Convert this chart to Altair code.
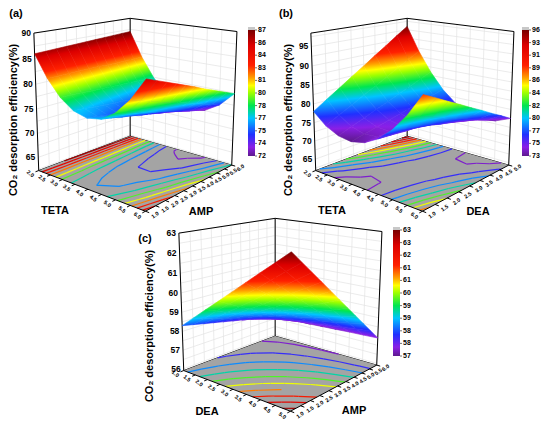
import numpy as np
import altair as alt

# ---------------- data ----------------
TETA = [2.0, 2.5, 3.0, 3.5, 4.0, 4.5, 5.0, 5.5, 6.0]
AMP = [1.0, 1.5, 2.0, 2.5, 3.0, 3.5, 4.0, 4.5, 5.0, 5.5, 6.0]
DEA = [1.0, 1.5, 2.0, 2.5, 3.0, 3.5, 4.0, 4.5, 5.0]

# (a) rows = TETA, columns = AMP
EFF_A = [
    [86.0, 86.1, 86.2, 86.3, 86.4, 86.5, 86.6, 86.7, 86.8, 86.9, 87.0],
    [81.7, 81.7, 81.7, 81.7, 81.7, 81.7, 81.6, 81.6, 81.6, 81.6, 81.6],
    [78.6, 78.5, 78.4, 78.2, 78.1, 78.0, 77.9, 77.8, 77.6, 77.5, 77.4],
    [76.7, 76.5, 76.2, 76.0, 75.8, 75.6, 75.3, 75.1, 74.9, 74.6, 74.4],
    [76.0, 75.7, 75.3, 75.0, 74.6, 74.3, 74.0, 73.6, 73.3, 72.9, 72.6],
    [76.5, 76.1, 75.6, 75.2, 74.7, 74.3, 73.8, 73.4, 72.9, 72.5, 72.0],
    [78.3, 77.7, 77.2, 76.6, 76.0, 75.5, 74.9, 74.3, 73.7, 73.2, 72.6],
    [81.3, 80.6, 79.9, 79.2, 78.5, 77.9, 77.2, 76.5, 75.8, 75.1, 74.4],
    [85.5, 84.7, 83.9, 83.1, 82.3, 81.5, 80.6, 79.8, 79.0, 78.2, 77.4],
]
# (b) rows = TETA, columns = DEA
EFF_B = [
    [78.0, 80.3, 82.5, 84.8, 87.0, 89.3, 91.5, 93.8, 96.0],
    [75.1, 76.9, 78.6, 80.4, 82.1, 83.9, 85.6, 87.4, 89.1],
    [73.5, 74.8, 76.0, 77.3, 78.5, 79.8, 81.0, 82.3, 83.5],
    [73.0, 73.8, 74.5, 75.3, 76.0, 76.8, 77.5, 78.3, 79.0],
    [73.8, 74.1, 74.3, 74.6, 74.8, 75.1, 75.3, 75.6, 75.8],
    [75.8, 75.6, 75.3, 75.1, 74.8, 74.6, 74.3, 74.1, 73.8],
    [79.0, 78.3, 77.5, 76.8, 76.0, 75.3, 74.5, 73.8, 73.0],
    [83.4, 82.2, 80.9, 79.7, 78.4, 77.2, 75.9, 74.7, 73.4],
    [89.0, 87.3, 85.5, 83.8, 82.0, 80.3, 78.5, 76.8, 75.0],
]
# (c) rows = DEA, columns = AMP
EFF_C = [
    [58.30, 58.18, 58.06, 57.94, 57.82, 57.70, 57.58, 57.46, 57.34, 57.22, 57.10],
    [58.89, 58.71, 58.54, 58.36, 58.19, 58.01, 57.84, 57.66, 57.49, 57.31, 57.14],
    [59.48, 59.25, 59.02, 58.79, 58.56, 58.33, 58.10, 57.87, 57.64, 57.41, 57.18],
    [60.06, 59.78, 59.49, 59.21, 58.92, 58.64, 58.35, 58.07, 57.78, 57.50, 57.21],
    [60.65, 60.31, 59.97, 59.63, 59.29, 58.95, 58.61, 58.27, 57.93, 57.59, 57.25],
    [61.24, 60.84, 60.45, 60.05, 59.66, 59.26, 58.87, 58.47, 58.08, 57.68, 57.29],
    [61.83, 61.38, 60.93, 60.48, 60.03, 59.58, 59.13, 58.68, 58.23, 57.78, 57.33],
    [62.41, 61.91, 61.40, 60.90, 60.39, 59.89, 59.38, 58.88, 58.37, 57.87, 57.36],
    [63.00, 62.44, 61.88, 61.32, 60.76, 60.20, 59.64, 59.08, 58.52, 57.96, 57.40],
]

ZT_A = [65, 70, 75, 80, 85, 90]
ZT_B = [65, 70, 75, 80, 85, 90, 95]
ZT_C = [56, 57, 58, 59, 60, 61, 62, 63]

CB_A = ["87", "86", "84", "83", "81", "80", "78", "77", "75", "74", "72"]
CB_B = ["96", "93", "91", "89", "86", "84", "82", "80", "77", "75", "73"]
CB_C = ["63", "63", "62", "61", "61", "60", "59", "59", "58", "58", "57"]

Z_TITLE = "CO₂ desorption efficiency(%)"

# ---------------- style / layout ----------------
FONT = "Liberation Sans"
CMAP_T = [0.0, 0.07, 0.17, 0.30, 0.40, 0.50, 0.56, 0.62, 0.72, 0.88, 1.0]
CMAP_C = ["#5e1a8e", "#8a1fe6", "#2030ff", "#00c4ff", "#00e650", "#9cff00",
          "#ffff00", "#ffa000", "#ff2000", "#dc0000", "#780000"]
FLOOR = "#a4a4a4"
GRID = "#e2e2e2"
LAB_OFF = 0.075

PANELS = [
    dict(f1=TETA, f2=AMP, z=EFF_A, zr=(62.2, 90.0), cr=(72.0, 87.0), zt=ZT_A, cb=CB_A,
         off=(0, 0), letter="(a)", lpos=(16, 14), ztpos=(14, 120),
         n1="TETA", n1pos=(55, 211), n2="AMP", n2pos=(201, 212), cbox=(248, 255, 30, 156)),
    dict(f1=TETA, f2=DEA, z=EFF_B, zr=(61.8, 98.4), cr=(73.0, 96.0), zt=ZT_B, cb=CB_B,
         off=(277, 0), letter="(b)", lpos=(286, 14), ztpos=(289, 120),
         n1="TETA", n1pos=(332, 211), n2="DEA", n2pos=(478, 212), cbox=(522, 529, 30, 156)),
    dict(f1=DEA, f2=AMP, z=EFF_C, zr=(55.9, 63.0), cr=(57.0, 63.0), zt=ZT_C, cb=CB_C,
         off=(145, 200), letter="(c)", lpos=(145, 239), ztpos=(150, 326),
         n1="DEA", n1pos=(207, 412), n2="AMP", n2pos=(354, 411), cbox=(393, 400, 230, 356)),
]

# box corners of panel (a) on the page: (u, v, w) -> (x, y)
CAM_PTS = [((0, 0, 0), (39, 170)), ((1, 0, 0), (145, 212)), ((1, 1, 0), (232, 164)),
           ((0, 1, 0), (130, 137)), ((0, 0, 1), (34, 33)), ((0, 1, 1), (130, 18)),
           ((1, 1, 1), (237, 32))]


def fit_camera(pts):
    xy = np.array([p[1] for p in pts], float)
    m = xy.mean(axis=0)
    s = np.sqrt(2) / np.mean(np.linalg.norm(xy - m, axis=1))
    T = np.array([[s, 0, -s * m[0]], [0, s, -s * m[1]], [0, 0, 1]])
    rows = []
    for (X, Y, Z), (x, y) in pts:
        xn, yn, _ = T @ np.array([x, y, 1.0])
        rows.append([X, Y, Z, 1, 0, 0, 0, 0, -xn * X, -xn * Y, -xn * Z, -xn])
        rows.append([0, 0, 0, 0, X, Y, Z, 1, -yn * X, -yn * Y, -yn * Z, -yn])
    _, _, vt = np.linalg.svd(np.asarray(rows, float))
    Pn = vt[-1].reshape(3, 4)
    P = np.linalg.inv(T) @ Pn
    return P / P[2, 3]


P = fit_camera(CAM_PTS)


def proj(u, v, w):
    h = P @ np.array([u, v, w, 1.0])
    return h[0] / h[2], h[1] / h[2], h[2]


def pexpr(row, u, v, w):
    a, d = P[row], P[2]
    num = f"({a[0]:.10g})*datum.{u}+({a[1]:.10g})*datum.{v}+({a[2]:.10g})*datum.{w}+({a[3]:.10g})"
    den = f"({d[0]:.10g})*datum.{u}+({d[1]:.10g})*datum.{v}+({d[2]:.10g})*datum.{w}+({d[3]:.10g})"
    return f"({num})/({den})"


def calc_point(ch, u="u", v="v", w="w", px="px", py="py"):
    return ch.transform_calculate(**{px: pexpr(0, u, v, w) + "+datum.ox",
                                     py: pexpr(1, u, v, w) + "+datum.oy"})


def hex2rgb(h):
    return [int(h[i:i + 2], 16) for i in (1, 3, 5)]


def cmap(t):
    t = min(max(t, 0.0), 1.0)
    for k in range(len(CMAP_T) - 1):
        if t <= CMAP_T[k + 1]:
            f = (t - CMAP_T[k]) / (CMAP_T[k + 1] - CMAP_T[k])
            a, b = hex2rgb(CMAP_C[k]), hex2rgb(CMAP_C[k + 1])
            return "#" + "".join(f"{int(round(a[i] + f * (b[i] - a[i]))):02x}" for i in range(3))
    return CMAP_C[-1]


def quad_gradient(xs, ys, ts):
    x0, x1, y0, y1 = min(xs), max(xs), min(ys), max(ys)
    w, h = max(x1 - x0, 1e-6), max(y1 - y0, 1e-6)
    X = np.array([(x - x0) / w for x in xs])
    Y = np.array([(y - y0) / h for y in ys])
    A = np.column_stack([np.ones(4), X, Y])
    coef, *_ = np.linalg.lstsq(A, np.array(ts), rcond=None)
    tf = A @ coef
    tlo, thi = float(tf.min()), float(tf.max())
    g = coef[1:]
    gg = float(g @ g)
    if thi - tlo < 1e-6 or gg < 1e-12:
        c = cmap(float(np.mean(ts)))
        return {"gradient": "linear", "x1": 0, "y1": 0, "x2": 1, "y2": 0,
                "stops": [{"offset": 0, "color": c}, {"offset": 1, "color": c}]}
    qc = np.array([X.mean(), Y.mean()])
    tc = coef[0] + g @ qc
    p1 = qc + g / gg * (tlo - tc)
    p2 = qc + g / gg * (thi - tc)
    stops = [{"offset": 0.0, "color": cmap(tlo)}]
    for tk in CMAP_T:
        if tlo < tk < thi:
            stops.append({"offset": float((tk - tlo) / (thi - tlo)), "color": cmap(tk)})
    stops.append({"offset": 1.0, "color": cmap(thi)})
    return {"gradient": "linear", "x1": float(p1[0]), "y1": float(p1[1]),
            "x2": float(p2[0]), "y2": float(p2[1]), "stops": stops}


def norm(vals, x):
    return (x - vals[0]) / (vals[-1] - vals[0])


# ---------------- build tables ----------------
quads = []
floor_rows, grid_rows, edge_rows, front_rows, cont_rows = [], [], [], [], []
ztick_rows, lab1_rows, lab2_rows, title_rows, ztitle_rows = [], [], [], [], []
cb_rows, cbcap_rows, cblab_rows, cbtick_rows = [], [], [], []


def seg(rows, ox, oy, a, b, **kw):
    r = dict(u1=a[0], v1=a[1], w1=a[2], u2=b[0], v2=b[1], w2=b[2], ox=ox, oy=oy)
    r.update(kw)
    rows.append(r)


for pi, pn in enumerate(PANELS):
    g = np.asarray(pn["z"], float)
    f1, f2 = pn["f1"], pn["f2"]
    n1, n2 = g.shape
    z0, z1 = pn["zr"]
    c0, c1 = pn["cr"]
    ox, oy = pn["off"]
    us = [norm(f1, x) for x in f1]
    vs = [norm(f2, x) for x in f2]

    # surface quads
    for i in range(n1 - 1):
        for j in range(n2 - 1):
            verts = []
            for (a, b) in [(i, j), (i + 1, j), (i + 1, j + 1), (i, j + 1)]:
                u, v = us[a], vs[b]
                w = (g[a, b] - z0) / (z1 - z0)
                t = (g[a, b] - c0) / (c1 - c0)
                x, y, d = proj(u, v, w)
                verts.append((u, v, w, x + ox, y + oy, d, t))
            depth = float(np.mean([q[5] for q in verts]))
            quads.append((depth, ox, oy, verts))

    # floor
    for k, (u, v) in enumerate([(0, 0), (1, 0), (1, 1), (0, 1), (0, 0)]):
        floor_rows.append(dict(pid=f"p{pi}", ord=k, u=u, v=v, w=0, ox=ox, oy=oy))

    # wall grid
    zs = pn["zt"]
    step = (zs[1] - zs[0]) / 2.0
    zlines = []
    zz = zs[0] - step
    while zz <= z1 + 1e-9:
        if zz >= z0:
            zlines.append((zz - z0) / (z1 - z0))
        zz += step
    for v in vs:
        seg(grid_rows, ox, oy, (0, v, 0), (0, v, 1))
    for u in us:
        seg(grid_rows, ox, oy, (u, 1, 0), (u, 1, 1))
    for w in zlines:
        seg(grid_rows, ox, oy, (0, 0, w), (0, 1, w))
        seg(grid_rows, ox, oy, (0, 1, w), (1, 1, w))

    # box edges behind the surface
    for a, b in [((0, 0, 0), (0, 0, 1)), ((0, 1, 0), (0, 1, 1)), ((1, 1, 0), (1, 1, 1)),
                 ((0, 0, 1), (0, 1, 1)), ((0, 1, 1), (1, 1, 1)),
                 ((0, 0, 0), (0, 1, 0)), ((0, 1, 0), (1, 1, 0))]:
        seg(edge_rows, ox, oy, a, b)
    # front axes + ticks
    seg(front_rows, ox, oy, (0, 0, 0), (1, 0, 0))
    seg(front_rows, ox, oy, (1, 0, 0), (1, 1, 0))
    for u in us:
        seg(front_rows, ox, oy, (u, 0, 0), (u, -0.03, 0))
    for v in vs:
        seg(front_rows, ox, oy, (1, v, 0), (1.03, v, 0))

    # floor contours (marching squares on the grid)
    levels = [c0 + (k + 0.5) * (c1 - c0) / 10.0 for k in range(10)]
    for lev in levels:
        tl = (lev - c0) / (c1 - c0)
        for i in range(n1 - 1):
            for j in range(n2 - 1):
                cs = [(i, j), (i + 1, j), (i + 1, j + 1), (i, j + 1)]
                vals = [g[a, b] for a, b in cs]
                pts = []
                for k in range(4):
                    a, b = cs[k], cs[(k + 1) % 4]
                    va, vb = vals[k], vals[(k + 1) % 4]
                    if (va - lev) * (vb - lev) < 0:
                        f = (lev - va) / (vb - va)
                        ui = us[a[0]] + f * (us[b[0]] - us[a[0]])
                        vi = vs[a[1]] + f * (vs[b[1]] - vs[a[1]])
                        pts.append((ui, vi))
                pairs = []
                if len(pts) == 2:
                    pairs = [(pts[0], pts[1])]
                elif len(pts) == 4:
                    cen = float(np.mean(vals))
                    if (vals[0] - lev) * (cen - lev) > 0:
                        pairs = [(pts[0], pts[1]), (pts[2], pts[3])]
                    else:
                        pairs = [(pts[3], pts[0]), (pts[1], pts[2])]
                for p, q in pairs:
                    seg(cont_rows, ox, oy, (p[0], p[1], 0), (q[0], q[1], 0), t=tl)

    # z tick labels and factor tick labels
    for zv in zs:
        ztick_rows.append(dict(u=0, v=0, w=(zv - z0) / (z1 - z0), ox=ox, oy=oy, label=str(zv)))
    for u, val in zip(us, f1):
        lab1_rows.append(dict(u=u, v=-LAB_OFF, w=0, ox=ox, oy=oy, label=f"{val:.1f}"))
    for v, val in zip(vs, f2):
        lab2_rows.append(dict(u=1 + LAB_OFF, v=v, w=0, ox=ox, oy=oy, label=f"{val:.1f}"))

    title_rows.append(dict(x=pn["n1pos"][0], y=pn["n1pos"][1], label=pn["n1"]))
    title_rows.append(dict(x=pn["n2pos"][0], y=pn["n2pos"][1], label=pn["n2"]))
    title_rows.append(dict(x=pn["lpos"][0], y=pn["lpos"][1], label=pn["letter"]))
    ztitle_rows.append(dict(x=pn["ztpos"][0], y=pn["ztpos"][1], label=Z_TITLE))

    bx0, bx1, by0, by1 = pn["cbox"]
    cb_rows.append(dict(x=bx0, x2=bx1, y=by0, y2=by1))
    cbcap_rows.append(dict(x=bx0, x2=bx1, y=by0 - 3, y2=by0))
    nlab = len(pn["cb"])
    for k, lab in enumerate(pn["cb"]):
        yy = by0 + k * (by1 - by0) / (nlab - 1)
        cblab_rows.append(dict(x=bx1 + 3, y=yy, label=lab))
        cbtick_rows.append(dict(x=bx1, x2=bx1 + 2, y=yy))

# surface rows in painter order (farthest first)
quads.sort(key=lambda q: -q[0])
surf_rows = []
for n, (depth, ox, oy, verts) in enumerate(quads):
    grad = quad_gradient([q[3] for q in verts], [q[4] for q in verts], [q[6] for q in verts])
    for k, idx in enumerate([0, 1, 2, 3, 0]):
        u, v, w = verts[idx][:3]
        surf_rows.append(dict(qid=f"q{n:05d}", ord=k, u=float(u), v=float(v), w=float(w),
                              ox=ox, oy=oy, grad=grad))

# ---------------- chart ----------------
XS = alt.Scale(domain=[0, 550], range=[-8, 542], nice=False, zero=False)
YS = alt.Scale(domain=[0, 427], range=[-8, 419], nice=False, zero=False)


def X(f):
    return alt.X(f"{f}:Q", scale=XS, axis=None)


def Y(f):
    return alt.Y(f"{f}:Q", scale=YS, axis=None)


def rules(rows, **mk):
    ch = alt.Chart(alt.Data(values=rows))
    ch = calc_point(ch, "u1", "v1", "w1", "xa", "ya")
    ch = calc_point(ch, "u2", "v2", "w2", "xb", "yb")
    return ch.mark_rule(**mk).encode(x=X("xa"), y=Y("ya"), x2="xb:Q", y2="yb:Q")


grid_layer = rules(grid_rows, color=GRID, strokeWidth=0.7)
edge_layer = rules(edge_rows, color="black", strokeWidth=1)

floor_layer = calc_point(alt.Chart(alt.Data(values=floor_rows))).mark_line(
    filled=True, color=FLOOR, strokeWidth=0).encode(
    x=X("px"), y=Y("py"), order=alt.Order("ord:Q"), detail="pid:N")

cscale = alt.Scale(domain=CMAP_T, range=CMAP_C, interpolate="rgb")
cont = alt.Chart(alt.Data(values=cont_rows))
cont = calc_point(cont, "u1", "v1", "w1", "xa", "ya")
cont = calc_point(cont, "u2", "v2", "w2", "xb", "yb")
cont_layer = cont.mark_rule(strokeWidth=1.2).encode(
    x=X("xa"), y=Y("ya"), x2="xb:Q", y2="yb:Q",
    color=alt.Color("t:Q", scale=cscale, legend=None))

surf_layer = calc_point(alt.Chart(alt.Data(values=surf_rows))).mark_line(
    filled=True, strokeWidth=0.6, strokeJoin="round").encode(
    x=X("px"), y=Y("py"), order=alt.Order("ord:Q"), detail="qid:N",
    fill=alt.Fill("grad:N", scale=None), stroke=alt.Stroke("grad:N", scale=None))

front_layer = rules(front_rows, color="black", strokeWidth=1)


def text_layer(rows, projected=True, **mk):
    ch = alt.Chart(alt.Data(values=rows))
    if projected:
        ch = calc_point(ch)
        xf, yf = "px", "py"
    else:
        xf, yf = "x", "y"
    return ch.mark_text(font=FONT, fontWeight="bold", color="black", **mk).encode(
        x=X(xf), y=Y(yf), text="label:N")


zlab_layer = text_layer(ztick_rows, align="right", baseline="middle", fontSize=8.5, dx=-3)
lab1_layer = text_layer(lab1_rows, align="center", baseline="middle", fontSize=5.5, angle=38)
lab2_layer = text_layer(lab2_rows, align="center", baseline="middle", fontSize=5.5, angle=325)
title_layer = text_layer(title_rows, projected=False, align="center", baseline="middle", fontSize=11)
ztitle_layer = text_layer(ztitle_rows, projected=False, align="center", baseline="middle",
                          fontSize=11, angle=270)

grad_full = alt.Gradient(gradient="linear", x1=0, x2=0, y1=1, y2=0,
                         stops=[alt.GradientStop(offset=t, color=c) for t, c in zip(CMAP_T, CMAP_C)])
cb_layer = alt.Chart(alt.Data(values=cb_rows)).mark_rect(fill=grad_full).encode(
    x=X("x"), x2="x2:Q", y=Y("y"), y2="y2:Q")
cbcap_layer = alt.Chart(alt.Data(values=cbcap_rows)).mark_rect(fill="#c8c8c8").encode(
    x=X("x"), x2="x2:Q", y=Y("y"), y2="y2:Q")
cbtick_layer = alt.Chart(alt.Data(values=cbtick_rows)).mark_rule(color="#333333", strokeWidth=0.7).encode(
    x=X("x"), x2="x2:Q", y=Y("y"))
cblab_layer = text_layer(cblab_rows, projected=False, align="left", baseline="middle", fontSize=7)

chart = alt.layer(
    grid_layer, edge_layer, floor_layer, cont_layer, surf_layer, front_layer,
    zlab_layer, lab1_layer, lab2_layer, title_layer, ztitle_layer,
    cb_layer, cbcap_layer, cbtick_layer, cblab_layer,
).properties(
    width=534, height=411, padding=0, background="white",
    autosize=alt.AutoSizeParams(type="none"),
).configure_view(strokeWidth=0)

chart.save("out.html", embed_options={"renderer": "svg", "actions": False})
